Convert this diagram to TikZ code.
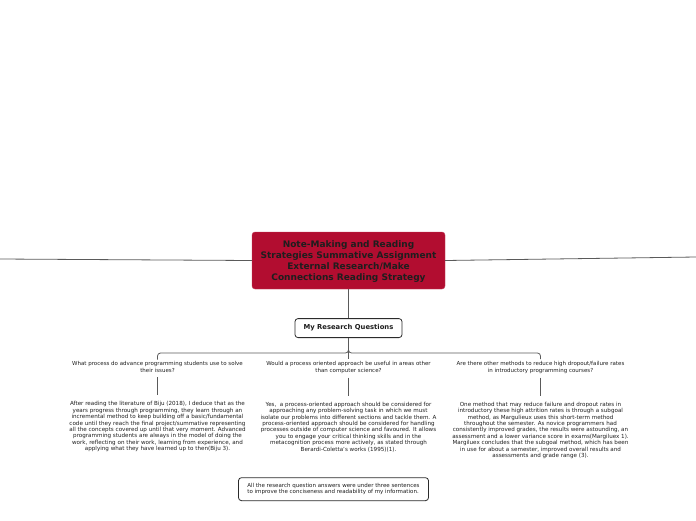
\documentclass[tikz,border=0pt]{standalone}
\usepackage{fontspec}
\setmainfont{DejaVu Sans}
\usetikzlibrary{positioning, calc}
\definecolor{titlered}{HTML}{B20D30}
\definecolor{linegray}{HTML}{5A5A5A}
\definecolor{boxborder}{HTML}{2B2B2B}
\definecolor{textdark}{HTML}{1E1E1E}

\begin{document}
\begin{tikzpicture}[
    x=1pt, y=1pt,
    every node/.style={text=textdark},
    titlebox/.style={
        fill=titlered, draw=titlered!80!white, rounded corners=3pt,
        minimum width=193pt, minimum height=57pt, align=center,
        font=\fontsize{9}{11}\selectfont\bfseries
    },
    topicbox/.style={
        draw=boxborder, fill=white, rounded corners=3pt, line width=0.8pt,
        minimum width=107pt, minimum height=19pt, align=center,
        font=\fontsize{6.8}{8}\selectfont\bfseries
    },
    qtext/.style={align=center, inner sep=1pt, font=\fontsize{5.5}{7}\selectfont},
    atext/.style={align=center, inner sep=1pt, font=\fontsize{5.6}{6.45}\selectfont},
    notebox/.style={
        draw=boxborder, fill=white, rounded corners=3pt, line width=0.8pt,
        minimum width=190pt, minimum height=23pt, align=left,
        font=\fontsize{5.5}{6}\selectfont
    },
    branch/.style={draw=linegray, line width=0.8pt},
]
\useasboundingbox (0,0) rectangle (696,-520);

% === Central topic ===
\node[titlebox, text depth=-2pt] (main) at (348.5,-260.5)
    {Note-Making and Reading\\
     Strategies Summative Assignment\\
     External Research/Make\\
     Connections Reading Strategy};

% loose ends of the off-page branches
\coordinate (westend) at (0,-259);
\coordinate (eastend) at (696,-257);

% === My Research Questions ===
\node[topicbox, below=29pt of main] (rq) {My Research Questions};

% === Questions ===
\node[qtext, below=22pt of rq] (q2)
    {Would a process oriented approach be useful in areas other\\
     than computer science?};
\node[qtext] (q1) at ([xshift=-191pt]q2)
    {What process do advance programming students use to solve\\
     their issues?};
\node[qtext] (q3) at ([xshift=192pt]q2)
    {Are there other methods to reduce high dropout/failure rates\\
     in introductory programming courses?};

% === Answers ===
\node[atext, below=26pt of q1] (a1)
    {After reading the literature of Biju (2018), I deduce that as the\\
     years progress through programming, they learn through an\\
     incremental method to keep building off a basic/fundamental\\
     code until they reach the final project/summative representing\\
     all the concepts covered up until that very moment. Advanced\\
     programming students are always in the model of doing the\\
     work, reflecting on their work, learning from experience, and\\
     applying what they have learned up to then(Biju 3).};
\node[atext, below=26pt of q2] (a2)
    {Yes,\ \ a process-oriented approach should be considered for\\
     approaching any problem-solving task in which we must\\
     isolate our problems into different sections and tackle them. A\\
     process-oriented approach should be considered for handling\\
     processes outside of computer science and favoured. It allows\\
     you to engage your critical thinking skills and in the\\
     metacognition process more actively, as stated through\\
     Berardi-Coletta's works (1995)(1).};
\node[atext, below=26pt of q3] (a3)
    {One method that may reduce failure and dropout rates in\\
     introductory these high attrition rates is through a subgoal\\
     method, as Margulieux uses this short-term method\\
     throughout the semester. As novice programmers had\\
     consistently improved grades, the results were astounding, an\\
     assessment and a lower variance score in exams(Margiluex 1).\\
     Margiluex concludes that the subgoal method, which has been\\
     in use for about a semester, improved overall results and\\
     assessments and grade range (3).};

% === Note ===
\node[notebox, below=24pt of a2, xshift=-15pt] (note)
    {All the research question answers were under three sentences\\
     to improve the conciseness and readability of my information.};

% ===== CONNECTORS =====
\draw[branch] (main.west) -- (westend);
\draw[branch] (main.east) -- (eastend);
\draw[branch] (main.south) -- (rq.north);

\draw[branch, rounded corners=3pt] (rq.south) -- ++(0,-15) -| ([yshift=1pt]q1.north);
\draw[branch, rounded corners=3pt] (rq.south) -- ++(0,-15) -| ([yshift=1pt]q3.north);
\draw[branch] (rq.south) -- ([yshift=1pt]q2.north);

\foreach \i in {1,2,3}
    \draw[branch, shorten <=3pt, shorten >=5pt] (q\i.south) -- (a\i.north);

\end{tikzpicture}
\end{document}
